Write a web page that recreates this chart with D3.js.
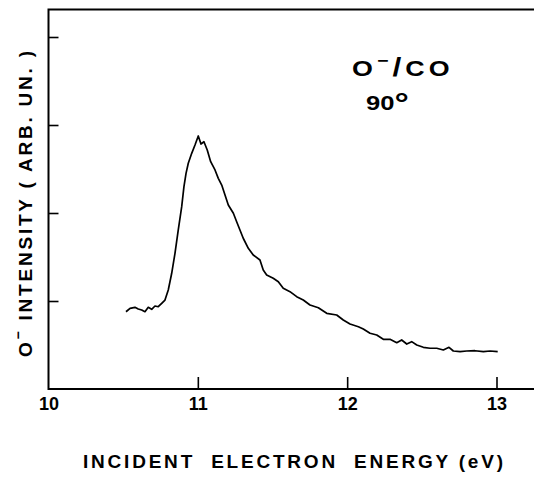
<!DOCTYPE html>
<html>
<head>
<meta charset="utf-8">
<script src="https://cdn.jsdelivr.net/npm/d3@7"></script>
<style>
  html, body { margin: 0; padding: 0; background: #fff; }
  svg { display: block; }
  text { font-family: "Liberation Sans", Arial, Helvetica, sans-serif; fill: #000; }
</style>
</head>
<body>
<svg id="chart" width="534" height="478"></svg>
<script>
// ---- data ----
const energy = [10.519,10.546,10.579,10.601,10.624,10.646,10.668,10.691,10.713,10.735,10.758,10.780,
  10.802,10.825,10.847,10.869,10.892,10.907,10.921,10.936,10.959,10.981,11.003,11.021,11.041,11.063,
  11.086,11.115,11.137,11.160,11.182,11.204,11.238,11.260,11.282,11.304,11.338,11.371,11.416,11.438,
  11.461,11.505,11.539,11.572,11.617,11.662,11.706,11.751,11.807,11.863,11.930,11.974,12.019,12.075,
  12.108,12.153,12.198,12.242,12.287,12.332,12.365,12.399,12.432,12.466,12.510,12.555,12.600,12.644,
  12.682,12.711,12.756,12.800,12.856,12.912,12.957,13.008];
const intensity = [0.878,0.917,0.928,0.909,0.898,0.878,0.928,0.906,0.943,0.935,0.974,1.011,
  1.125,1.315,1.542,1.807,2.072,2.299,2.451,2.565,2.678,2.773,2.875,2.784,2.810,2.716,
  2.583,2.489,2.394,2.318,2.205,2.091,1.997,1.901,1.807,1.713,1.599,1.523,1.466,1.352,
  1.295,1.258,1.219,1.144,1.106,1.049,1.011,0.955,0.924,0.860,0.841,0.784,0.739,0.708,
  0.682,0.633,0.614,0.565,0.565,0.526,0.557,0.511,0.538,0.500,0.474,0.463,0.463,0.443,
  0.474,0.432,0.424,0.432,0.435,0.424,0.432,0.424];
const xTickValues = [10, 11, 12, 13];
const xTickLabels = ["10", "11", "12", "13"];
const yTickValues = [1, 2, 3, 4];
const xTitle = "INCIDENT  ELECTRON  ENERGY (eV)";
const yTitleMain = " INTENSITY ( ARB. UN. )";

// ---- layout ----
const svg = d3.select("#chart");
const x0 = 48.5, xEnd = 534, yBottom = 389, yTop = 9.5;
const x = d3.scaleLinear().domain([10, 13]).range([x0, 496.5]);
const y = d3.scaleLinear().domain([0, 4]).range([yBottom, 37]);

// x axis ticks (inward)
const xAxis = d3.axisBottom(x).tickValues(xTickValues)
  .tickFormat((d, i) => xTickLabels[i]).tickSize(-12).tickPadding(8);
const gx = svg.append("g").attr("transform", `translate(0,${yBottom})`).call(xAxis);
gx.select(".domain").remove();
gx.selectAll(".tick line").attr("stroke", "#000").attr("stroke-width", 1.6);
gx.selectAll(".tick text").attr("font-size", 18).attr("font-weight", "bold")
  .attr("font-family", "'Liberation Sans', Arial, sans-serif").attr("fill", "#000");
gx.selectAll(".tick").filter(d => d === 10).select("line").remove();

// y axis ticks (inward)
const yAxis = d3.axisLeft(y).tickValues(yTickValues).tickFormat("").tickSize(-10);
const gy = svg.append("g").attr("transform", `translate(${x0},0)`).call(yAxis);
gy.select(".domain").remove();
gy.selectAll(".tick line").attr("stroke", "#000").attr("stroke-width", 1.6);

// frame: left, top, bottom
svg.append("path")
  .attr("d", `M${xEnd},${yTop}H${x0}V${yBottom}H${xEnd}`)
  .attr("fill", "none").attr("stroke", "#000").attr("stroke-width", 2);

// curve
const line = d3.line().x((d, i) => x(energy[i])).y((d, i) => y(intensity[i]));
svg.append("path").datum(intensity)
  .attr("d", line)
  .attr("fill", "none").attr("stroke", "#000").attr("stroke-width", 1.7)
  .attr("stroke-linejoin", "round");

// x title
svg.append("text")
  .attr("x", 83).attr("y", 468)
  .attr("font-size", 19).attr("font-weight", "bold")
  .attr("textLength", 420).attr("lengthAdjust", "spacing")
  .style("white-space", "pre")
  .text(xTitle);

// y title (rotated)
const yt = svg.append("text")
  .attr("transform", "translate(32,357) rotate(-90)")
  .attr("font-size", 19).attr("font-weight", "bold")
  .attr("textLength", 306).attr("lengthAdjust", "spacing")
  .style("white-space", "pre");
yt.append("tspan").text("O");
yt.append("tspan").attr("dy", -9).attr("font-size", 14).text("−");
yt.append("tspan").attr("dy", 9).text(yTitleMain);

// annotation
const an = svg.append("text")
  .attr("transform", "translate(352,76) scale(1.22,1)")
  .attr("font-size", 22).attr("font-weight", "bold")
  .attr("textLength", 80).attr("lengthAdjust", "spacing")
  .style("white-space", "pre");
an.append("tspan").text("O");
an.append("tspan").attr("dy", -10).attr("font-size", 16).text("−");
an.append("tspan").attr("dy", 10).attr("font-size", 26).text("/");
an.append("tspan").text("CO");

const deg = svg.append("text")
  .attr("transform", "translate(366,110) scale(1.28,1)")
  .attr("font-size", 20).attr("font-weight", "bold");
deg.append("tspan").text("90");
deg.append("tspan").attr("font-size", 28).attr("dy", 3).text("°");
</script>
</body>
</html>
